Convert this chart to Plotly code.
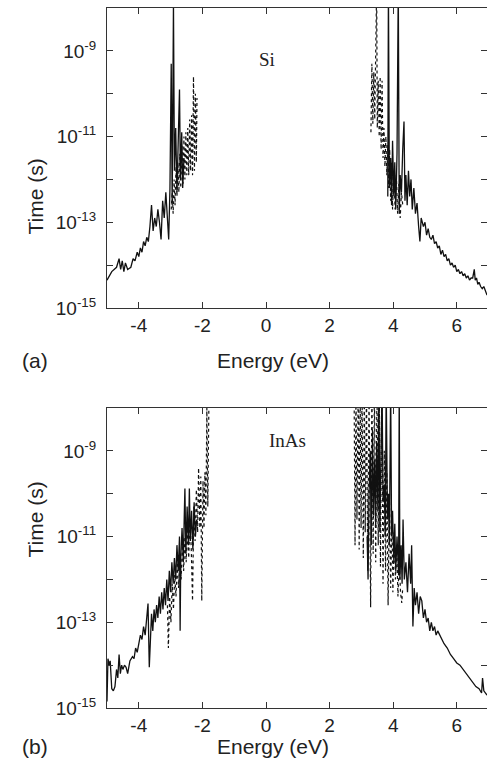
import plotly.graph_objects as go
from plotly.subplots import make_subplots

# ---------------- data (energy in eV, time as log10 of seconds) ----------------
# Panel (a): Si
si_solid_x = [-5.00, -4.85, -4.70, -4.62, -4.57, -4.52, -4.47, -4.42, -4.35, -4.25, -4.18, -4.12,
              -4.05, -4.00, -3.95, -3.90, -3.85, -3.80, -3.75, -3.70, -3.65, -3.60, -3.55, -3.50,
              -3.45, -3.40, -3.35, -3.30, -3.25, -3.20, -3.15, -3.10, -3.06, -3.02, -2.98, -2.95,
              -2.91, -2.88, -2.84, -2.80, -2.76, -2.72, -2.69, -2.65, -2.62, -2.58, None,
              3.83, 3.85, 3.88, 3.92, 3.95, 3.98, 4.02, 4.05, 4.08, 4.12, 4.16, 4.19, 4.22, 4.26,
              4.30, 4.34, 4.37, 4.40, 4.44, 4.48, 4.52, 4.56, 4.60, 4.65, 4.70, 4.75, 4.80, 4.84,
              4.88, 4.95, 5.00, 5.05, 5.10, 5.15, 5.20, 5.25, 5.30, 5.35, 5.40, 5.45, 5.50, 5.55,
              5.60, 5.65, 5.70, 5.75, 5.80, 5.85, 5.90, 5.95, 6.00, 6.05, 6.10, 6.15, 6.20, 6.25,
              6.30, 6.35, 6.40, 6.45, 6.50, 6.55, 6.58, 6.62, 6.66, 6.70, 6.75, 6.80, 6.85, 6.90,
              6.95]
si_solid_logt = [-14.35, -14.15, -14.05, -13.85, -14.10, -13.90, -14.15, -13.95, -14.10, -14.05, -13.85, -13.90,
                 -13.70, -13.80, -13.60, -13.70, -13.45, -13.55, -13.35, -13.45, -13.10, -12.60, -13.20, -12.90,
                 -13.10, -12.70, -13.00, -13.40, -12.50, -12.90, -12.30, -12.90, -13.40, -12.20, -9.30, -12.60,
                 -7.90, -11.80, -10.80, -12.30, -11.30, -9.90, -12.00, -10.90, -12.20, -11.50, None,
                 -12.40, -7.50, -12.20, -11.50, -12.60, -11.10, -12.40, -11.60, -12.70, -11.40, -7.50, -12.80, -11.90, -12.30,
                 -11.30, -10.65, -12.50, -11.90, -12.60, -11.80, -12.40, -12.00, -12.70, -12.20, -12.80, -12.55, -13.10, -13.45,
                 -12.90, -13.10, -13.00, -13.30, -13.15, -13.35, -13.40, -13.30, -13.50, -13.45, -13.60, -13.55, -13.75, -13.65,
                 -13.80, -13.75, -13.90, -13.85, -14.00, -13.95, -14.05, -14.00, -14.15, -14.10, -14.20, -14.15, -14.25, -14.20,
                 -14.30, -14.25, -14.35, -14.30, -14.30, -14.10, -14.35, -14.30, -14.45, -14.40, -14.50, -14.55, -14.50, -14.60,
                 -14.70]

si_dot_x = [-2.98, -2.95, -2.92, -2.89, -2.86, -2.83, -2.80, -2.77, -2.74, -2.71, -2.68, -2.64, -2.61, -2.58,
            -2.55, -2.52, -2.49, -2.46, -2.43, -2.40, -2.37, -2.34, -2.31, -2.28, -2.25, -2.22, -2.19, -2.17, None,
            3.30, 3.33, 3.36, 3.39, 3.42, 3.45, 3.48, 3.50, 3.53, 3.56, 3.59, 3.62, 3.65, 3.68, 3.71, 3.74, 3.77,
            3.80, 3.83, 3.86, 3.89, 3.92, 3.95, 3.98, 4.02, 4.06, 4.10, 4.14, 4.18, 4.22, 4.26, 4.30]
si_dot_logt = [-12.70, -12.30, -12.80, -12.00, -12.60, -11.70, -12.40, -11.60, -12.30, -11.40, -12.20, -11.20, -12.10, -11.00,
               -12.00, -10.90, -11.90, -10.80, -11.90, -10.60, -11.80, -10.50, -11.90, -9.60, -11.80, -10.00, -11.60, -10.10, None,
               -10.90, -9.30, -10.70, -9.50, -10.60, -8.20, -7.50, -10.80, -9.70, -11.00, -9.60, -11.30, -9.70, -11.50, -10.80, -11.70, -11.00,
               -11.90, -11.20, -12.20, -11.30, -12.50, -11.60, -12.70, -11.80, -12.70, -11.90, -12.80, -12.10, -12.90, -12.30, -12.60]

# Panel (b): InAs
inas_solid_x = [-5.00, -4.97, -4.93, -4.90, -4.85, -4.80, -4.75, -4.70, -4.66, -4.62, -4.58, -4.54, -4.50,
                -4.45, -4.40, -4.35, -4.28, -4.20, -4.15, -4.10, -4.05, -4.00, -3.95, -3.90, -3.85, -3.80,
                -3.75, -3.71, -3.67, -3.63, -3.60, -3.56, -3.52, -3.48, -3.44, -3.40, -3.36, -3.32, -3.28,
                -3.24, -3.20, -3.16, -3.12, -3.08, -3.04, -3.00, -2.96, -2.92, -2.88, -2.84, -2.80, -2.76,
                -2.72, -2.70, -2.68, -2.64, -2.60, -2.57, -2.55, -2.52, -2.48, -2.44, -2.41, -2.38, -2.34,
                -2.30, -2.26, -2.22, -2.18, None,
                3.18, 3.21, 3.24, 3.28, 3.31, 3.35, 3.38, 3.42, 3.45, 3.48, 3.52, 3.55, 3.58, 3.62, 3.65,
                3.68, 3.72, 3.75, 3.78, 3.82, 3.85, 3.88, 3.92, 3.95, 3.98, 4.02, 4.05, 4.08, 4.12, 4.17,
                4.19, 4.21, 4.25, 4.28, 4.31, 4.35, 4.40, 4.45, 4.50, 4.55, 4.58, 4.62, 4.66, 4.70, 4.75,
                4.80, 4.85, 4.90, 4.95, 5.00, 5.05, 5.10, 5.15, 5.20, 5.25, 5.30, 5.35, 5.40, 5.47, 5.55,
                5.60, 5.70, 5.80, 5.90, 6.00, 6.10, 6.20, 6.30, 6.40, 6.50, 6.60, 6.70, 6.78, 6.81, 6.85,
                6.95]
inas_solid_logt = [-14.85, -13.85, -14.00, -13.90, -14.55, -14.60, -14.50, -14.10, -14.30, -13.75, -14.20, -14.00, -14.10,
                   -14.00, -14.05, -14.20, -13.90, -13.80, -13.85, -13.60, -13.70, -13.50, -13.30, -13.40, -13.10, -13.30,
                   -12.90, -12.56, -14.05, -13.10, -12.80, -13.20, -12.70, -13.00, -12.60, -12.90, -12.40, -12.80, -12.30,
                   -12.70, -12.20, -12.60, -12.00, -12.50, -11.80, -12.30, -11.60, -12.10, -11.50, -12.00, -11.20, -11.80,
                   -11.00, -13.20, -11.50, -10.80, -11.60, -10.50, -9.88, -11.40, -10.30, -11.20, -9.88, -11.10, -10.40,
                   -11.30, -10.20, -11.00, -10.60, None,
                   -11.00, -12.00, -10.00, -9.00, -11.20, -8.50, -10.50, -9.20, -10.80, -8.80, -10.40, -7.50, -10.90, -9.60, -7.50,
                   -10.20, -9.80, -11.00, -7.50, -10.60, -10.00, -11.20, -7.50, -11.00, -10.40, -11.60, -10.70, -11.80, -11.00, -11.90,
                   -7.50, -12.00, -11.20, -12.10, -10.60, -12.00, -11.60, -12.30, -11.40, -12.10, -11.20, -13.10, -12.20, -12.60, -12.30,
                   -12.80, -12.40, -12.50, -12.90, -12.70, -13.00, -12.90, -13.20, -13.00, -13.20, -13.10, -13.30, -13.20, -13.30, -13.40,
                   -13.50, -13.60, -13.75, -13.85, -13.95, -14.00, -14.10, -14.20, -14.30, -14.40, -14.50, -14.55, -14.65, -14.30, -14.60,
                   -14.70]

inas_dot_x = [-3.10, -3.07, -3.03, -2.99, -2.95, -2.91, -2.87, -2.83, -2.79, -2.75, -2.71, -2.67, -2.63,
              -2.59, -2.55, -2.51, -2.47, -2.43, -2.39, -2.35, -2.31, -2.27, -2.23, -2.19, -2.15, -2.12,
              -2.08, -2.05, -2.02, -1.98, -1.95, -1.92, -1.89, -1.86, -1.83, -1.81, -1.79, None,
              2.77, 2.80, 2.83, 2.86, 2.90, 2.93, 2.96, 2.99, 3.02, 3.06, 3.09, 3.12, 3.16, 3.20, 3.24,
              3.29, 3.33, 3.37, 3.41, 3.45, 3.49, 3.53, 3.56, 3.60, 3.64, 3.68, 3.72, 3.76, 3.80, 3.84,
              3.88, 3.92, 3.96, 3.99, 4.03, 4.07, 4.11, 4.15, 4.19, 4.23, 4.27, 4.30]
inas_dot_logt = [-12.60, -13.60, -12.40, -13.00, -12.10, -12.70, -11.90, -12.40, -11.60, -12.20, -11.40, -12.00, -11.20,
                 -11.80, -11.00, -11.60, -10.80, -11.50, -10.60, -11.30, -12.50, -10.30, -11.10, -9.90, -10.90, -9.40,
                 -10.80, -9.60, -12.50, -9.70, -10.80, -9.50, -10.50, -8.00, -10.30, -9.30, -7.50, None,
                 -7.50, -11.20, -7.50, -10.60, -7.50, -11.30, -7.50, -10.80, -7.50, -11.50, -7.50, -10.90, -7.50, -11.80, -7.50,
                 -12.65, -7.50, -11.40, -7.50, -11.60, -7.50, -11.20, -7.50, -11.70, -7.50, -12.10, -9.00, -11.80, -9.50, -12.60,
                 -10.00, -12.20, -10.50, -12.30, -10.90, -12.00, -11.20, -12.40, -11.50, -12.30, -12.55, -12.20]

panel_labels = ["Si", "InAs"]
panel_tags = ["(a)", "(b)"]
x_title = "Energy (eV)"
y_title = "Time (s)"
x_ticks = [-4, -2, 0, 2, 4, 6]
y_major_exponents = [-15, -13, -11, -9]
y_minor_exponents = [-14, -12, -10, -8]


def to_seconds(logs):
    return [None if v is None else 10 ** v for v in logs]


fig = make_subplots(rows=2, cols=1, vertical_spacing=0.1429)

series = [
    (1, si_solid_x, si_solid_logt, "solid", 1.3),
    (1, si_dot_x, si_dot_logt, "dot", 1.2),
    (2, inas_solid_x, inas_solid_logt, "solid", 1.3),
    (2, inas_dot_x, inas_dot_logt, "dot", 1.2),
]
for row, xs, ls, dash, w in series:
    fig.add_trace(go.Scatter(x=xs, y=to_seconds(ls), mode="lines", connectgaps=False,
                             line=dict(color="#111111", width=w, dash=dash),
                             showlegend=False, hoverinfo="skip"), row=row, col=1)

FONT = "Liberation Sans, Arial, sans-serif"
tick_font = dict(family=FONT, size=19, color="#222222")
title_font = dict(family=FONT, size=21, color="#222222")

for row in (1, 2):
    fig.update_xaxes(range=[-5, 6.95], tickvals=x_ticks, ticktext=[str(t) for t in x_ticks],
                     ticks="inside", ticklen=6, tickwidth=1, tickcolor="#333",
                     showline=True, linecolor="#333", linewidth=1.2, mirror="ticks",
                     showgrid=False, zeroline=False, tickfont=tick_font,
                     ticklabelstandoff=0, automargin=False, row=row, col=1)
    fig.update_yaxes(type="log", range=[-15, -8],
                     tickvals=[10.0 ** e for e in y_major_exponents],
                     ticktext=[f"10<sup>{e}</sup>" for e in y_major_exponents],
                     minor=dict(tickvals=[10.0 ** e for e in y_minor_exponents], ticks="inside",
                                ticklen=6, tickwidth=1, tickcolor="#333", showgrid=False),
                     ticks="inside", ticklen=6, tickwidth=1, tickcolor="#333",
                     showline=True, linecolor="#333", linewidth=1.2, mirror="ticks",
                     showgrid=False, zeroline=False, tickfont=tick_font,
                     ticklabelstandoff=6, automargin=False, row=row, col=1)

fig.update_layout(
    width=487, height=777,
    margin=dict(l=107, r=0, t=8, b=69),
    paper_bgcolor="white", plot_bgcolor="white",
    showlegend=False,
)


def px_to_paper(px, py):
    return (px - 107) / 380, (708 - py) / 700


serif = dict(family="Liberation Serif, Times New Roman, serif", size=19, color="#222")
texts = [
    (267, 47, panel_labels[0], serif, 0),
    (287, 440, panel_labels[1], serif, 0),
    (273, 361, x_title, title_font, 0),
    (273, 760, x_title, title_font, 0),
    (21, 157, y_title, title_font, -90),
    (21, 560, y_title, title_font, -90),
    (20, 361, panel_tags[0], title_font, 0),
    (20, 760, panel_tags[1], title_font, 0),
]
for px, py, t, f, ang in texts:
    ax_, ay_ = px_to_paper(px, py)
    fig.add_annotation(x=ax_, y=ay_, xref="paper", yref="paper", text=t, showarrow=False,
                       font=f, textangle=ang)

# remove the default 8px page margin so the figure fills the 487x777 window exactly
fig.write_html("out.html", config={"displayModeBar": False},
               post_script="document.body.style.margin='0';document.body.style.overflow='hidden';")
